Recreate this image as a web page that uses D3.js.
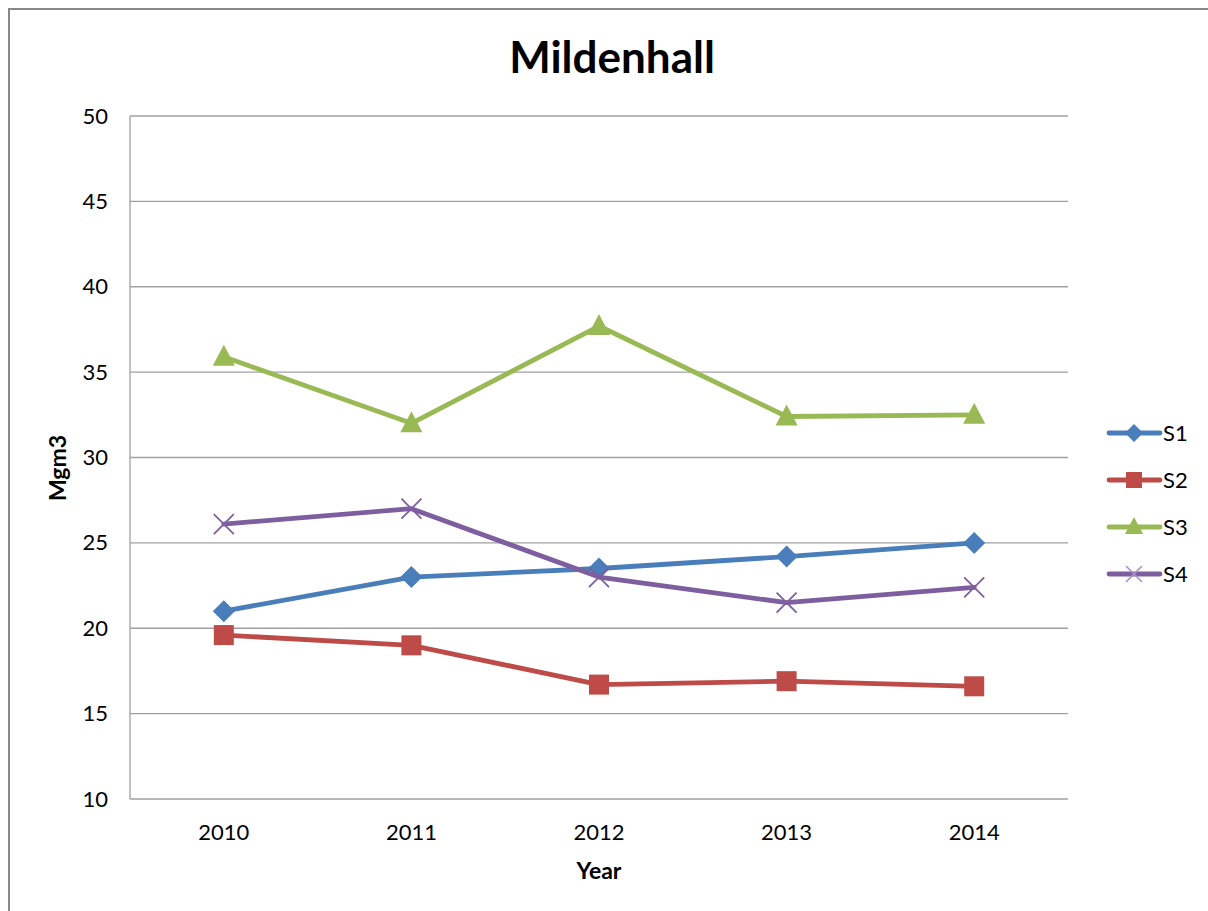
<!DOCTYPE html>
<html>
<head>
<meta charset="utf-8">
<script src="https://cdn.jsdelivr.net/npm/d3@7"></script>
<style>
  html, body { margin: 0; padding: 0; background: #fff; }
  svg { display: block; }
  text { font-family: Lato, "Open Sans", sans-serif; fill: #000; }
</style>
</head>
<body>
<svg id="chart" width="1208" height="911"></svg>
<script>
// Annual concentrations at the Mildenhall sites
const years = ["2010", "2011", "2012", "2013", "2014"];
const s1 = [21.0, 23.0, 23.5, 24.2, 25.0];
const s2 = [19.6, 19.0, 16.7, 16.9, 16.6];
const s3 = [35.9, 32.0, 37.7, 32.4, 32.5];
const s4 = [26.1, 27.0, 23.0, 21.5, 22.4];
const seriesNames = ["S1", "S2", "S3", "S4"];
const yTicks = [10, 15, 20, 25, 30, 35, 40, 45, 50];

const series = [
  { name: seriesNames[0], values: s1, color: "#4a7ebb", marker: "diamond" },
  { name: seriesNames[1], values: s2, color: "#be4b48", marker: "square" },
  { name: seriesNames[2], values: s3, color: "#98b954", marker: "triangle" },
  { name: seriesNames[3], values: s4, color: "#7d5fa0", marker: "x" }
];

const svg = d3.select("#chart");
const labelColor = "#222";

// Chart frame
svg.append("rect")
  .attr("x", 9).attr("y", 9)
  .attr("width", 1220).attr("height", 920)
  .attr("fill", "none").attr("stroke", "#888").attr("stroke-width", 2);

const plot = { left: 130, top: 116, right: 1068, bottom: 799 };

const x = d3.scaleBand().domain(years).range([plot.left, plot.right]);
const y = d3.scaleLinear().domain([10, 50]).range([plot.bottom, plot.top]);

// Gridlines
svg.append("g")
  .selectAll("line")
  .data(yTicks)
  .join("line")
  .attr("x1", plot.left).attr("x2", plot.right)
  .attr("y1", d => y(d)).attr("y2", d => y(d))
  .attr("stroke", "#a0a0a0").attr("stroke-width", 1.3);

// Left axis line
svg.append("line")
  .attr("x1", plot.left).attr("x2", plot.left)
  .attr("y1", plot.top).attr("y2", plot.bottom)
  .attr("stroke", "#a0a0a0").attr("stroke-width", 1.3);

// Y tick labels
const yAxis = svg.append("g")
  .attr("transform", `translate(${plot.left},0)`)
  .call(d3.axisLeft(y).tickValues(yTicks).tickSize(0).tickPadding(22));
yAxis.select(".domain").remove();
yAxis.selectAll("text")
  .attr("font-family", "Lato, 'Open Sans', sans-serif")
  .attr("font-size", 22).attr("fill", labelColor);

// X tick labels
const xAxis = svg.append("g")
  .attr("transform", `translate(0,${plot.bottom})`)
  .call(d3.axisBottom(x).tickSize(0).tickPadding(25));
xAxis.select(".domain").remove();
xAxis.selectAll("text")
  .attr("font-family", "Lato, 'Open Sans', sans-serif")
  .attr("font-size", 22).attr("fill", labelColor);

// Title and axis titles
svg.append("text")
  .attr("x", 612).attr("y", 73)
  .attr("text-anchor", "middle")
  .attr("font-size", 44).attr("font-weight", "bold")
  .text("Mildenhall");

svg.append("text")
  .attr("x", 599).attr("y", 879)
  .attr("text-anchor", "middle")
  .attr("font-size", 23).attr("font-weight", "bold")
  .text("Year");

svg.append("text")
  .attr("transform", "translate(66,468) rotate(-90)")
  .attr("text-anchor", "middle")
  .attr("font-size", 23).attr("font-weight", "bold")
  .text("Mgm3");

const cx = d => x(d) + x.bandwidth() / 2;

function drawMarker(g, type, color, px, py) {
  if (type === "diamond") {
    g.append("path")
      .attr("d", `M${px},${py - 11}L${px + 11},${py}L${px},${py + 11}L${px - 11},${py}Z`)
      .attr("fill", color);
  } else if (type === "square") {
    g.append("rect")
      .attr("x", px - 10).attr("y", py - 10)
      .attr("width", 20).attr("height", 20)
      .attr("fill", color);
  } else if (type === "triangle") {
    g.append("path")
      .attr("d", `M${px},${py - 12}L${px + 11},${py + 9}L${px - 11},${py + 9}Z`)
      .attr("fill", color);
  } else if (type === "x") {
    g.append("path")
      .attr("d", `M${px - 10},${py - 10}L${px + 10},${py + 10}M${px - 10},${py + 10}L${px + 10},${py - 10}`)
      .attr("stroke", color).attr("stroke-width", 1.8).attr("fill", "none");
  }
}

const line = d3.line()
  .x((d, i) => cx(years[i]))
  .y(d => y(d));

series.forEach(s => {
  const g = svg.append("g");
  g.append("path")
    .datum(s.values)
    .attr("d", line)
    .attr("fill", "none")
    .attr("stroke", s.color)
    .attr("stroke-width", 4.8)
    .attr("stroke-linejoin", "round")
    .attr("stroke-linecap", "round");
  s.values.forEach((v, i) => drawMarker(g, s.marker, s.color, cx(years[i]), y(v)));
});

// Legend
const legend = svg.append("g");
series.forEach((s, i) => {
  const ly = 433 + i * 47;
  const g = legend.append("g");
  g.append("line")
    .attr("x1", 1109).attr("x2", 1160)
    .attr("y1", ly).attr("y2", ly)
    .attr("stroke", s.color).attr("stroke-width", 4.8)
    .attr("stroke-linecap", "round");
  if (s.marker === "x") {
    g.append("path")
      .attr("d", `M${1134 - 8},${ly - 8}L${1134 + 8},${ly + 8}M${1134 - 8},${ly + 8}L${1134 + 8},${ly - 8}`)
      .attr("stroke", "#a98fcb").attr("stroke-width", 1.6);
  } else if (s.marker === "diamond") {
    g.append("path")
      .attr("d", `M1134,${ly - 9}L1143,${ly}L1134,${ly + 9}L1125,${ly}Z`)
      .attr("fill", s.color);
  } else if (s.marker === "square") {
    g.append("rect").attr("x", 1126).attr("y", ly - 8).attr("width", 16).attr("height", 16).attr("fill", s.color);
  } else {
    g.append("path")
      .attr("d", `M1134,${ly - 10}L1143,${ly + 7}L1125,${ly + 7}Z`)
      .attr("fill", s.color);
  }
  g.append("text")
    .attr("x", 1163).attr("y", ly + 8)
    .attr("font-size", 22)
    .attr("fill", labelColor)
    .text(s.name);
});
</script>
</body>
</html>
